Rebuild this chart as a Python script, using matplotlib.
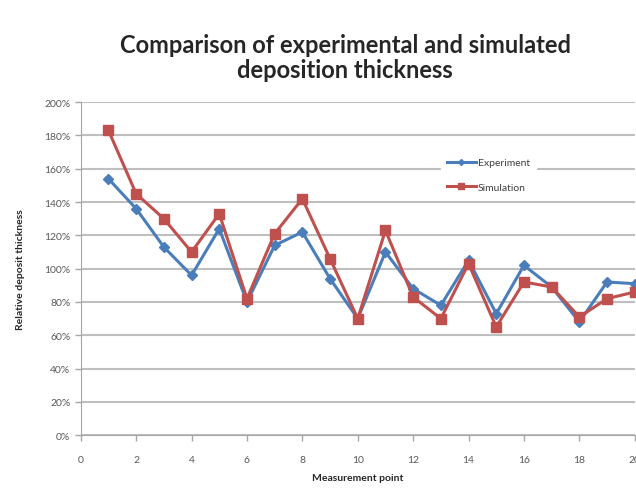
import matplotlib
matplotlib.use("Agg")
import matplotlib.pyplot as plt
from matplotlib.ticker import PercentFormatter

plt.rcParams["font.family"] = ["Lato", "DejaVu Sans"]

points = list(range(1, 21))
experiment = [154, 136, 113, 96, 124, 80, 114, 122, 94, 70,
              110, 88, 78, 105, 73, 102, 89, 68, 92, 91]
simulation = [183, 145, 130, 110, 133, 82, 121, 142, 106, 70,
              123, 83, 70, 103, 65, 92, 89, 71, 82, 86]

blue = "#4a7ebb"
red = "#c0504d"

fig = plt.figure(figsize=(6.36, 4.89), dpi=100)
ax = fig.add_axes([0.127, 0.108, 0.871, 0.681])

ax.plot(points, experiment, color=blue, lw=2.2, marker="D", ms=5,
        label="Experiment")
ax.plot(points, simulation, color=red, lw=2.2, marker="s", ms=7,
        label="Simulation")

ax.set_xlim(0, 20)
ax.set_ylim(0, 200)
ax.set_xticks(range(0, 21, 2))
ax.set_yticks(range(0, 201, 20))
ax.yaxis.set_major_formatter(PercentFormatter(decimals=0))
ax.grid(axis="y", color="#bfbfbf", lw=1.5)
ax.set_axisbelow(True)
for s in ["top", "right"]:
    ax.spines[s].set_visible(False)
ax.spines["left"].set_color("#a6a6a6")
ax.spines["bottom"].set_color("#a6a6a6")
ax.tick_params(colors="#a6a6a6", labelcolor="#595959", labelsize=7.5,
               length=4, width=1)
ax.tick_params(axis="x", pad=10)

ax.set_xlabel("Measurement point", fontsize=7.5, fontweight="bold",
              labelpad=7, color="#262626")
ax.set_ylabel("Relative deposit thickness", fontsize=7.5, fontweight="bold",
              labelpad=14, color="#262626")

leg = ax.legend(loc="center", bbox_to_anchor=(0.768, 0.640),
                bbox_transform=fig.transFigure, frameon=True,
                fontsize=7.5, handlelength=2.8, handletextpad=0.2,
                labelspacing=1.45, borderpad=0.6, markerscale=0.6)
leg.get_frame().set_edgecolor("white")
leg.get_frame().set_facecolor("white")
leg.get_frame().set_alpha(1)
for t in leg.get_texts():
    t.set_color("#404040")

fig.text(0.543, 0.882, "Comparison of experimental and simulated\ndeposition thickness",
         ha="center", va="center", fontsize=17, fontweight="bold",
         color="#262626", linespacing=1.1)

fig.savefig("out.png", dpi=100)
